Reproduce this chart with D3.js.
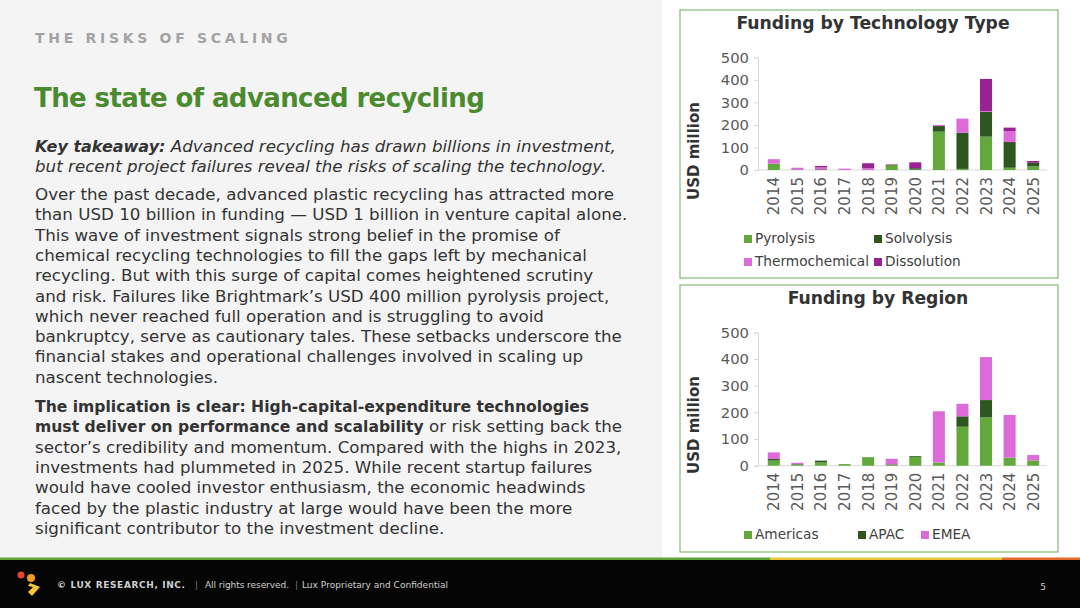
<!DOCTYPE html>
<html>
<head>
<meta charset="utf-8">
<script src="https://cdn.jsdelivr.net/npm/d3@7"></script>
<style>
  html, body { margin: 0; padding: 0; background: #fff; }
  svg { display: block; font-family: "DejaVu Sans", "Open Sans", sans-serif; }
</style>
</head>
<body>
<svg id="slide" width="1080" height="608"></svg>
<script>
// chart data
var years = ['2014', '2015', '2016', '2017', '2018', '2019', '2020', '2021', '2022', '2023', '2024', '2025'];

var techNames = ['Pyrolysis', 'Solvolysis', 'Thermochemical', 'Dissolution'];
var pyrolysis      = [28, 0, 0, 0, 0, 20, 2, 170, 5, 148, 10, 16];
var solvolysis     = [0, 2, 3, 0, 0, 3, 6, 25, 160, 110, 114, 16];
var thermochemical = [20, 8, 8, 6, 8, 0, 0, 5, 63, 3, 49, 0];
var dissolution    = [0, 0, 7, 0, 22, 2, 26, 0, 0, 143, 15, 8];

var regionNames = ['Americas', 'APAC', 'EMEA'];
var americas = [19, 4, 12, 6, 32, 3, 33, 12, 146, 181, 30, 20];
var apac     = [6, 2, 7, 0, 0, 2, 3, 0, 39, 65, 0, 0];
var emea     = [25, 5, 0, 0, 0, 21, 0, 192, 47, 161, 160, 20];

var yTicks = [0, 100, 200, 300, 400, 500];

var green = '#62a83c', dark = '#2e5620', pink = '#dc6bd9', purple = '#992293';

var svg = d3.select('#slide');

// backgrounds
svg.append('rect').attr('width', 1080).attr('height', 608).attr('fill', '#ffffff');
svg.append('rect').attr('width', 662).attr('height', 558).attr('fill', '#f4f4f4');

// left hand text
svg.append('text')
    .attr('x', 35).attr('y', 43)
    .attr('font-size', 14).attr('font-weight', 'bold')
    .attr('letter-spacing', 3.7).attr('fill', '#a3a3a3')
    .text('THE RISKS OF SCALING');

svg.append('text')
    .attr('x', 34).attr('y', 107)
    .attr('font-size', 26).attr('font-weight', 'bold')
    .attr('letter-spacing', -0.6)
    .attr('fill', '#4b8a2e')
    .text('The state of advanced recycling');

var regular = 16.7, strong = 15.6;
var body = svg.append('g').attr('font-size', regular).attr('fill', '#333');

var take = body.append('text').attr('x', 35).attr('y', 152).attr('font-style', 'italic');
take.append('tspan').attr('font-weight', 'bold').attr('font-size', strong + 0.4).text('Key takeaway:');
take.append('tspan').text(' Advanced recycling has drawn billions in investment,');
body.append('text').attr('x', 35).attr('y', 172).attr('font-style', 'italic')
    .text('but recent project failures reveal the risks of scaling the technology.');

var para1 = [
  'Over the past decade, advanced plastic recycling has attracted more',
  'than USD 10 billion in funding \u2014 USD 1 billion in venture capital alone.',
  'This wave of investment signals strong belief in the promise of',
  'chemical recycling technologies to fill the gaps left by mechanical',
  'recycling. But with this surge of capital comes heightened scrutiny',
  'and risk. Failures like Brightmark\u2019s USD 400 million pyrolysis project,',
  'which never reached full operation and is struggling to avoid',
  'bankruptcy, serve as cautionary tales. These setbacks underscore the',
  'financial stakes and operational challenges involved in scaling up',
  'nascent technologies.'
];
para1.forEach(function (line, i) {
  body.append('text').attr('x', 35).attr('y', 200 + i * 20.3).text(line);
});

var para2 = [
  [['The implication is clear: High-capital-expenditure technologies', true]],
  [['must deliver on performance and scalability', true], [' or risk setting back the', false]],
  [['sector\u2019s credibility and momentum. Compared with the highs in 2023,', false]],
  [['investments had plummeted in 2025. While recent startup failures', false]],
  [['would have cooled investor enthusiasm, the economic headwinds', false]],
  [['faced by the plastic industry at large would have been the more', false]],
  [['significant contributor to the investment decline.', false]]
];
para2.forEach(function (parts, i) {
  var t = body.append('text').attr('x', 35).attr('y', 412 + i * 20.3);
  parts.forEach(function (p) {
    t.append('tspan')
        .attr('font-weight', p[1] ? 'bold' : 'normal')
        .attr('font-size', p[1] ? strong : regular)
        .text(p[0]);
  });
});

// stacked bar chart panel
function panel(opts) {
  var g = svg.append('g');

  g.append('rect')
      .attr('x', opts.box[0]).attr('y', opts.box[1])
      .attr('width', opts.box[2]).attr('height', opts.box[3])
      .attr('fill', '#fff').attr('stroke', '#86b972').attr('stroke-width', 1.2);

  g.append('text')
      .attr('x', opts.titleX).attr('y', opts.titleY)
      .attr('text-anchor', 'middle')
      .attr('font-size', 17.2).attr('font-weight', 'bold').attr('fill', '#333')
      .text(opts.title);

  var x = d3.scaleBand()
      .domain(years)
      .range([762, 1045])
      .paddingInner(0.49)
      .paddingOuter(0.245);

  var y = d3.scaleLinear()
      .domain([0, 500])
      .range([opts.y0, opts.y500]);

  var rows = years.map(function (yr, i) {
    var r = { year: yr };
    opts.names.forEach(function (n, k) { r[n] = opts.series[k][i]; });
    return r;
  });

  var stacked = d3.stack().keys(opts.names)(rows);

  // y axis
  var yAxis = d3.axisLeft(y)
      .tickValues(yTicks)
      .tickSize(4)
      .tickPadding(5);

  var ax = g.append('g')
      .attr('transform', 'translate(758,0)')
      .call(yAxis);
  ax.select('.domain').attr('stroke', '#d9d9d9');
  ax.selectAll('.tick line').attr('stroke', '#d9d9d9');
  ax.selectAll('.tick text')
      .attr('font-size', 14.8).attr('fill', '#595959')
      .attr('font-family', '"DejaVu Sans", sans-serif');

  g.append('line')
      .attr('x1', 758).attr('x2', 1047)
      .attr('y1', y(0)).attr('y2', y(0))
      .attr('stroke', '#d9d9d9');

  g.selectAll('g.layer')
      .data(stacked)
      .enter()
    .append('g')
      .attr('class', 'layer')
      .attr('fill', function (d, i) { return opts.colors[i]; })
    .selectAll('rect')
      .data(function (d) { return d; })
      .enter()
    .append('rect')
      .attr('x', function (d) { return x(d.data.year); })
      .attr('width', x.bandwidth())
      .attr('y', function (d) { return y(d[1]); })
      .attr('height', function (d) { return y(d[0]) - y(d[1]); });

  // year labels, rotated
  g.selectAll('text.year')
      .data(years)
      .enter()
    .append('text')
      .attr('class', 'year')
      .attr('transform', function (d) {
        return 'translate(' + (x(d) + x.bandwidth() / 2 + 5.5) + ',' + (y(0) + 7) + ') rotate(-90)';
      })
      .attr('text-anchor', 'end')
      .attr('font-size', 15).attr('fill', '#595959')
      .text(function (d) { return d; });

  g.append('text')
      .attr('transform', 'translate(699,' + opts.labelY + ') rotate(-90)')
      .attr('text-anchor', 'middle')
      .attr('font-size', 15).attr('font-weight', 'bold').attr('fill', '#333')
      .text('USD million');

  // legend
  var leg = g.selectAll('g.leg')
      .data(opts.names)
      .enter()
    .append('g')
      .attr('class', 'leg')
      .attr('transform', function (d, i) {
        return 'translate(' + opts.legendPos[i][0] + ',' + opts.legendPos[i][1] + ')';
      });
  leg.append('rect')
      .attr('x', 0).attr('y', -8)
      .attr('width', 8).attr('height', 8)
      .attr('fill', function (d, i) { return opts.colors[i]; });
  leg.append('text')
      .attr('x', 11).attr('y', 0)
      .attr('font-size', 13.7).attr('fill', '#404040')
      .text(function (d) { return d; });
}

panel({
  box: [680, 10, 378, 268],
  title: 'Funding by Technology Type',
  titleX: 873, titleY: 29,
  y0: 170, y500: 57.3,
  labelY: 151,
  names: techNames,
  series: [pyrolysis, solvolysis, thermochemical, dissolution],
  colors: [green, dark, pink, purple],
  legendPos: [[744, 243], [874, 243], [744, 266], [874, 266]]
});

panel({
  box: [680, 285, 378, 267],
  title: 'Funding by Region',
  titleX: 878, titleY: 304,
  y0: 465.7, y500: 332.3,
  labelY: 425,
  names: regionNames,
  series: [americas, apac, emea],
  colors: [green, dark, pink],
  legendPos: [[744, 539], [858, 539], [921, 539]]
});

// footer
svg.append('rect').attr('x', 0).attr('y', 559).attr('width', 1080).attr('height', 49).attr('fill', '#050505');
svg.append('rect').attr('x', 0).attr('y', 557.5).attr('width', 770).attr('height', 2.5).attr('fill', '#5ea33a');
svg.append('rect').attr('x', 770).attr('y', 557.5).attr('width', 232).attr('height', 2.5).attr('fill', '#e8c63a');
svg.append('rect').attr('x', 1002).attr('y', 557.5).attr('width', 78).attr('height', 2.5).attr('fill', '#e26b2a');

var logo = svg.append('g');
logo.append('circle').attr('cx', 21).attr('cy', 575).attr('r', 3.5).attr('fill', '#e8452f');
logo.append('circle').attr('cx', 31).attr('cy', 578).attr('r', 4).attr('fill', '#f29a26');
logo.append('path')
    .attr('d', 'M30,583 L40,587 L32,596 L28,592 L33,587 L28,586 Z')
    .attr('fill', '#f6c531');

var foot = svg.append('g').attr('font-size', 9).attr('fill', '#d0d0d0');
foot.append('text').attr('x', 57).attr('y', 588)
    .attr('font-weight', 'bold').attr('textLength', 128)
    .text('\u00a9 LUX RESEARCH, INC.');
foot.append('text').attr('x', 195).attr('y', 588).attr('fill', '#777').text('|');
foot.append('text').attr('x', 205).attr('y', 588).attr('textLength', 84).text('All rights reserved.');
foot.append('text').attr('x', 295).attr('y', 588).attr('fill', '#777').text('|');
foot.append('text').attr('x', 302).attr('y', 588).attr('textLength', 146).text('Lux Proprietary and Confidential');

svg.append('text')
    .attr('x', 1046).attr('y', 590)
    .attr('text-anchor', 'end')
    .attr('font-size', 9).attr('fill', '#ccc')
    .text('5');
</script>
</body>
</html>
